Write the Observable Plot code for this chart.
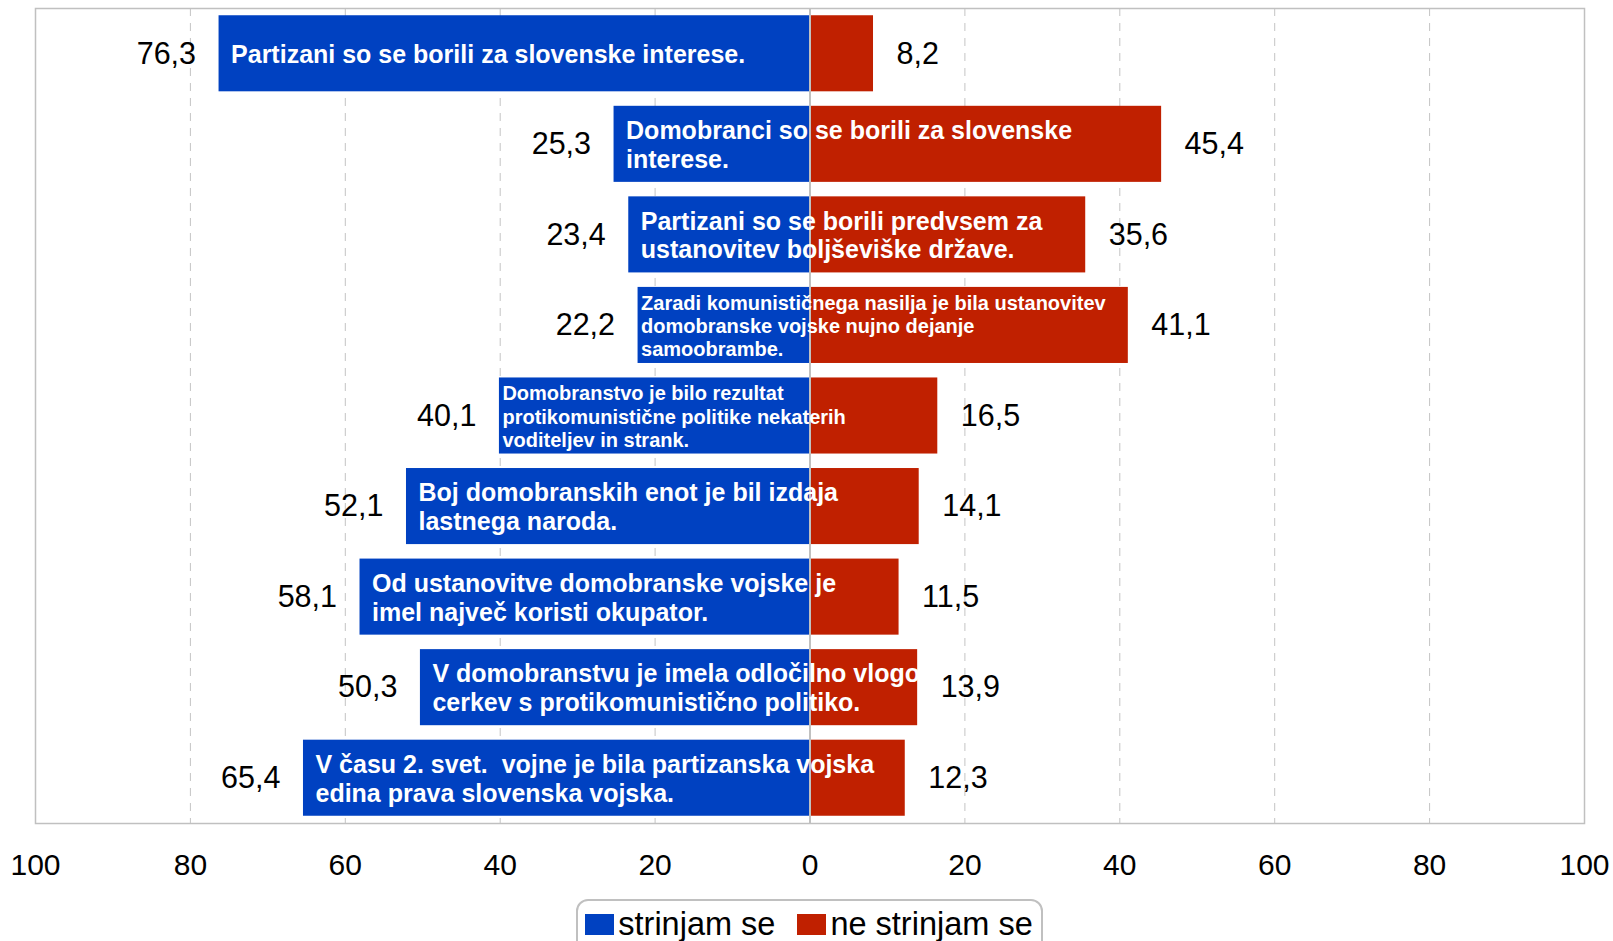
<!DOCTYPE html>
<html>
<head>
<meta charset="utf-8">
<script src="https://cdn.jsdelivr.net/npm/d3@7"></script>
<script src="https://cdn.jsdelivr.net/npm/@observablehq/plot@0.6"></script>
<style>
  html, body { margin: 0; padding: 0; background: #fff; }
  #chart { width: 1613px; }
  #legend-wrap { width: 1613px; display: flex; justify-content: center; margin-top: 4px; }
  #legend {
    transform: translateX(3px);
    border: 2px solid #c0c0c0; border-radius: 12px;
    padding: 5px 8px 8px 7px; line-height: 36px; height: 40px;
    font-family: "Liberation Sans", Arial, sans-serif; font-size: 32.5px; color: #000;
    white-space: nowrap;
  }
  #legend .sw { display: inline-block; width: 29px; height: 21px; vertical-align: baseline; margin-right: 4px; }
  #legend .item + .item { margin-left: 22px; }
</style>
</head>
<body>
<div id="chart"></div>
<div id="legend-wrap"><div id="legend"></div></div>
<script>
const categories = [
  "Partizani so se borili za slovenske interese.",
  "Domobranci so se borili za slovenske\ninterese.",
  "Partizani so se borili predvsem za\nustanovitev boljševiške države.",
  "Zaradi komunističnega nasilja je bila ustanovitev\ndomobranske vojske nujno dejanje\nsamoobrambe.",
  "Domobranstvo je bilo rezultat\nprotikomunistične politike nekaterih\nvoditeljev in strank.",
  "Boj domobranskih enot je bil izdaja\nlastnega naroda.",
  "Od ustanovitve domobranske vojske je\nimel največ koristi okupator.",
  "V domobranstvu je imela odločilno vlogo\ncerkev s protikomunistično politiko.",
  "V času 2. svet.  vojne je bila partizanska vojska\nedina prava slovenska vojska."
];
const agree    = [76.3, 25.3, 23.4, 22.2, 40.1, 52.1, 58.1, 50.3, 65.4];
const disagree = [8.2, 45.4, 35.6, 41.1, 16.5, 14.1, 11.5, 13.9, 12.3];
const seriesNames = ["strinjam se", "ne strinjam se"];
const seriesColors = ["#0041c1", "#c02000"];
const xTicks = [-100, -80, -60, -40, -20, 0, 20, 40, 60, 80, 100];
const gridTicks = [-80, -60, -40, -20, 20, 40, 60, 80];

const rows = categories.map((c, i) => ({
  category: c, agree: agree[i], disagree: disagree[i],
  lines: c.split("\n").length
}));
const fmt = v => d3.format(".1f")(v).replace(".", ",");
const FONT = "'Liberation Sans', Arial, sans-serif";

const chart = Plot.plot({
  width: 1613,
  height: 895,
  marginLeft: 35,
  marginRight: 29,
  marginTop: 8,
  marginBottom: 72,
  style: { fontFamily: FONT, background: "#fff", overflow: "visible" },
  x: { domain: [-100, 100], axis: null, label: null },
  y: { domain: categories, paddingInner: 0.16, paddingOuter: 0.08, round: false, axis: null },
  marks: [
    Plot.ruleX(gridTicks, { stroke: "#c4c4c4", strokeWidth: 1, strokeDasharray: "8,7" }),
    Plot.barX(rows, { y: "category", x1: d => -d.agree, x2: 0, fill: seriesColors[0] }),
    Plot.barX(rows, { y: "category", x1: 0, x2: "disagree", fill: seriesColors[1] }),
    Plot.ruleX([0], { stroke: "#c0c0c0", strokeWidth: 2 }),
    Plot.frame({ stroke: "#c0c0c0", strokeWidth: 1.5 }),
    Plot.text(rows, { y: "category", x: d => -d.agree, text: d => fmt(d.agree),
      textAnchor: "end", dx: -23, fontSize: 30.5, fill: "#000" }),
    Plot.text(rows, { y: "category", x: "disagree", text: d => fmt(d.disagree),
      textAnchor: "start", dx: 23, fontSize: 30.5, fill: "#000" }),
    Plot.text(rows.filter(d => d.lines < 3), { y: "category", x: d => -d.agree, text: "category",
      textAnchor: "start", dx: 12, fontSize: 25, fontWeight: "bold", fill: "#fff",
      lineAnchor: "middle", lineHeight: 1.15 }),
    Plot.text(rows.filter(d => d.lines >= 3), { y: "category", x: d => -d.agree, text: "category",
      textAnchor: "start", dx: 3, fontSize: 20, fontWeight: "bold", fill: "#fff",
      lineAnchor: "middle", lineHeight: 1.17 }),
    Plot.axisX({ ticks: xTicks, tickFormat: d => String(Math.abs(d)), tickSize: 0,
      tickPadding: 30, fontSize: 30, fill: "#000", label: null })
  ]
});
document.getElementById("chart").appendChild(chart);

const legend = document.getElementById("legend");
seriesNames.forEach((name, i) => {
  const item = document.createElement("span");
  item.className = "item";
  const sw = document.createElement("span");
  sw.className = "sw";
  sw.style.background = seriesColors[i];
  item.appendChild(sw);
  item.appendChild(document.createTextNode(name));
  legend.appendChild(item);
});
</script>
</body>
</html>
